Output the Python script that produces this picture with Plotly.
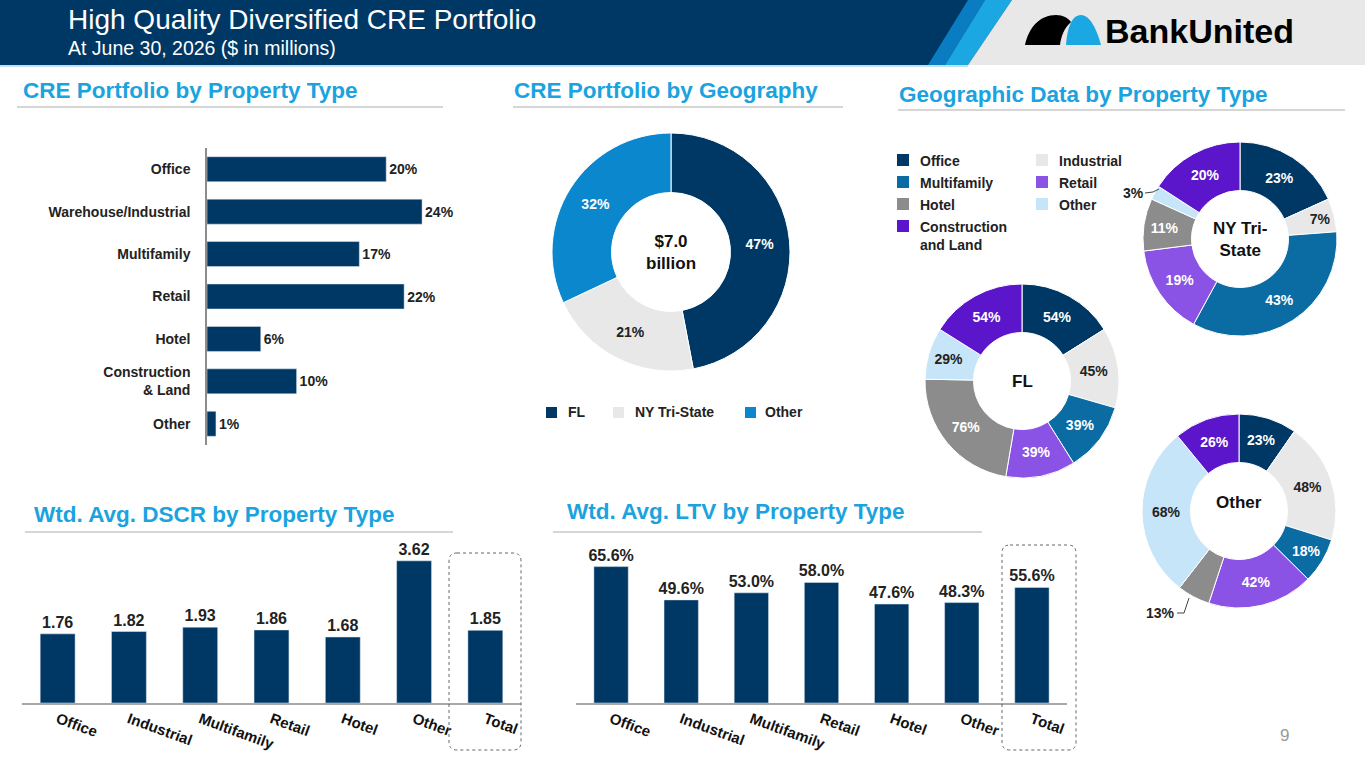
import plotly.graph_objects as go

W, H = 1365, 768

# ---- data ----
prop_types = ["Office", "Warehouse/Industrial", "Multifamily", "Retail", "Hotel",
              "Construction<br>& Land", "Other"]
prop_share = [20, 24, 17, 22, 6, 10, 1]

geo_labels = ["FL", "NY Tri-State", "Other"]
geo_share = [47, 21, 32]

geo_types = ["Office", "Industrial", "Multifamily", "Retail", "Hotel", "Other",
             "Construction and Land"]
fl_pct = [54, 45, 39, 39, 76, 29, 54]
ny_pct = [23, 7, 43, 19, 11, 3, 20]
oth_pct = [23, 48, 18, 42, 13, 68, 26]

metric_cats = ["Office", "Industrial", "Multifamily", "Retail", "Hotel", "Other", "Total"]
dscr = [1.76, 1.82, 1.93, 1.86, 1.68, 3.62, 1.85]
ltv = [65.6, 49.6, 53.0, 58.0, 47.6, 48.3, 55.6]

# ---- colours ----
NAVY = "#003865"
TITLE_BLUE = "#1AA3DE"
FONT = "Arial, Liberation Sans, sans-serif"
type_colors = {
    "Office": "#003865",
    "Industrial": "#E8E8E8",
    "Multifamily": "#0B6BA3",
    "Retail": "#8B52E6",
    "Hotel": "#8C8C8C",
    "Other": "#C6E5F8",
    "Construction and Land": "#5B16CC",
}
dark_text = {"Industrial", "Other"}
geo_colors = ["#003865", "#E8E8E8", "#0A87CD"]


def fx(x):
    return x / W


def fy(y):
    return 1 - y / H


fig = go.Figure()

# horizontal bars - portfolio by property type
fig.add_trace(go.Bar(
    y=prop_types, x=prop_share, orientation="h",
    marker_color=NAVY, width=0.59,
    text=[f"{v}%" for v in prop_share], textposition="outside", constraintext="none",
    textfont=dict(size=14, color="#222", weight="bold"),
    cliponaxis=False, xaxis="x", yaxis="y",
))

# DSCR bars
fig.add_trace(go.Bar(
    x=metric_cats, y=dscr, marker_color=NAVY, width=0.49,
    text=[f"{v:.2f}" for v in dscr], textposition="outside", constraintext="none",
    textfont=dict(size=16, color="#222", weight="bold"),
    cliponaxis=False, xaxis="x2", yaxis="y2",
))

# LTV bars
fig.add_trace(go.Bar(
    x=metric_cats, y=ltv, marker_color=NAVY, width=0.49,
    text=[f"{v:.1f}%" for v in ltv], textposition="outside", constraintext="none",
    textfont=dict(size=16, color="#222", weight="bold"),
    cliponaxis=False, xaxis="x3", yaxis="y3",
))


def donut_domain(cx, cy, r):
    return dict(x=[fx(cx - r), fx(cx + r)], y=[fy(cy + r), fy(cy - r)])


# geography donut
fig.add_trace(go.Pie(
    labels=geo_labels, values=geo_share, hole=0.5, sort=False, direction="clockwise",
    marker=dict(colors=geo_colors, line=dict(color="white", width=1)),
    text=[f"{v}%" for v in geo_share], textinfo="text", textposition="inside",
    insidetextorientation="horizontal",
    textfont=dict(size=14, weight="bold", color=["white", "#222", "white"]),
    domain=donut_domain(671, 252, 119), showlegend=False,
))

# geographic data by property type
donuts = [
    (fl_pct, 1022, 381, []),
    (ny_pct, 1240, 239, ["Other"]),
    (oth_pct, 1239, 511, ["Hotel"]),
]
for vals, cx, cy, outside in donuts:
    fig.add_trace(go.Pie(
        labels=geo_types, values=vals, hole=0.5, sort=False, direction="clockwise",
        marker=dict(colors=[type_colors[t] for t in geo_types],
                    line=dict(color="white", width=1)),
        text=["" if t in outside else f"{v}%" for t, v in zip(geo_types, vals)],
        textinfo="text", textposition="inside", insidetextorientation="horizontal",
        textfont=dict(size=14, weight="bold",
                      color=["#222" if t in dark_text else "white" for t in geo_types]),
        domain=donut_domain(cx, cy, 97), showlegend=False,
    ))

shapes = []
annotations = []


def note(text, x, y, size, color="#222", xa="center", ya="middle", align="center"):
    annotations.append(dict(text=text, x=fx(x), y=fy(y), xref="paper", yref="paper",
                            xanchor=xa, yanchor=ya, align=align, showarrow=False,
                            font=dict(family=FONT, size=size, color=color)))


# header band
shapes.append(dict(type="rect", xref="paper", yref="paper", x0=0, x1=1,
                   y0=fy(65), y1=1, fillcolor=NAVY, line_width=0, layer="below"))
shapes.append(dict(type="path", xref="paper", yref="paper",
                   path=f"M{fx(968)},{fy(0)} L{fx(985)},{fy(0)} L{fx(945)},{fy(65)} L{fx(928)},{fy(65)} Z",
                   fillcolor="#0A7CC1", line_width=0))
shapes.append(dict(type="path", xref="paper", yref="paper",
                   path=f"M{fx(985)},{fy(0)} L{fx(1012)},{fy(0)} L{fx(968)},{fy(65)} L{fx(945)},{fy(65)} Z",
                   fillcolor="#1AA7E2", line_width=0))
shapes.append(dict(type="path", xref="paper", yref="paper",
                   path=f"M{fx(1012)},{fy(0)} L{fx(1365)},{fy(0)} L{fx(1365)},{fy(65)} L{fx(968)},{fy(65)} Z",
                   fillcolor="#E8E8E8", line_width=0))
shapes.append(dict(type="line", xref="paper", yref="paper", x0=0, x1=fx(968),
                   y0=fy(66), y1=fy(66), line=dict(color="#BFE3F5", width=2)))

# logo arch
shapes.append(dict(type="path", xref="paper", yref="paper",
                   path=(f"M{fx(1025)},{fy(45)} C{fx(1029)},{fy(27)} {fx(1040)},{fy(15)} {fx(1056)},{fy(15)} "
                         f"C{fx(1063)},{fy(15)} {fx(1068)},{fy(18)} {fx(1071)},{fy(22)} "
                         f"C{fx(1064)},{fy(28)} {fx(1061)},{fy(37)} {fx(1060)},{fy(45)} Z"),
                   fillcolor="black", line_width=0))
shapes.append(dict(type="path", xref="paper", yref="paper",
                   path=(f"M{fx(1066)},{fy(45)} C{fx(1067)},{fy(30)} {fx(1071)},{fy(15)} {fx(1081)},{fy(15)} "
                         f"C{fx(1090)},{fy(15)} {fx(1097)},{fy(30)} {fx(1101)},{fy(45)} Z"),
                   fillcolor="#1AA7E2", line_width=0))
note("<b>BankUnited</b>", 1103, 31, 34, color="black", xa="left")

note("High Quality Diversified CRE Portfolio", 66, 19, 28, color="white", xa="left")
note("At June 30, 2026 ($ in millions)", 66, 48, 19.5, color="white", xa="left")

# section titles with underline
sections = [
    ("CRE Portfolio by Property Type", 21, 90, 17, 443, 107),
    ("CRE Portfolio by Geography", 512, 90, 513, 843, 107),
    ("Geographic Data by Property Type", 897, 94, 898, 1345, 110),
    ("Wtd. Avg. DSCR by Property Type", 32, 514, 25, 453, 532),
    ("Wtd. Avg. LTV by Property Type", 565, 511, 553, 982, 532),
]
for txt, tx, ty, lx0, lx1, ly in sections:
    note(f"<b>{txt}</b>", tx, ty, 22.5, color=TITLE_BLUE, xa="left")
    shapes.append(dict(type="line", xref="paper", yref="paper", x0=fx(lx0), x1=fx(lx1),
                       y0=fy(ly), y1=fy(ly), line=dict(color="#D6D6D6", width=2)))

# donut centre texts
centres = [("$7.0<br>billion", 671, 252), ("FL", 1022, 381),
           ("NY Tri-<br>State", 1240, 239), ("Other", 1239, 502)]
for txt, cx, cy in centres:
    note(f"<b>{txt}</b>", cx, cy, 17, color="#111")

# geography legend
for (lab, col), sx, tx in zip(zip(geo_labels, geo_colors), [546, 613, 745], [566, 633, 763]):
    shapes.append(dict(type="rect", xref="paper", yref="paper", x0=fx(sx), x1=fx(sx + 11),
                       y0=fy(418), y1=fy(407), fillcolor=col, line_width=0))
    note(f"<b>{lab}</b>", tx, 412, 14, xa="left")

# property type legend (two columns)
legend_pos = {
    "Office": (897, 160), "Multifamily": (897, 182), "Hotel": (897, 204),
    "Construction and Land": (897, 226), "Industrial": (1036, 160),
    "Retail": (1036, 182), "Other": (1036, 204),
}
for t in geo_types:
    sx, sy = legend_pos[t]
    shapes.append(dict(type="rect", xref="paper", yref="paper", x0=fx(sx), x1=fx(sx + 12),
                       y0=fy(sy + 6), y1=fy(sy - 6), fillcolor=type_colors[t], line_width=0))
    lab = "Construction<br>and Land" if t == "Construction and Land" else t
    note(f"<b>{lab}</b>", sx + 21, sy - 9, 14, xa="left", ya="top", align="left")

# outside slice labels with leader lines
note("<b>3%</b>", 1133, 193, 14)
shapes.append(dict(type="path", xref="paper", yref="paper",
                   path=f"M{fx(1145)},{fy(193)} L{fx(1153)},{fy(192)} L{fx(1159)},{fy(189)}",
                   line=dict(color="#444", width=1)))
note("<b>13%</b>", 1160, 613, 14)
shapes.append(dict(type="path", xref="paper", yref="paper",
                   path=f"M{fx(1177)},{fy(613)} L{fx(1184)},{fy(613)} L{fx(1189)},{fy(598)}",
                   line=dict(color="#444", width=1)))

# dotted boxes around Total
for x0, x1, y0, y1 in [(449, 521, 553, 750), (1002, 1076, 545, 750)]:
    r = 8
    p = (f"M{fx(x0 + r)},{fy(y0)} L{fx(x1 - r)},{fy(y0)} Q{fx(x1)},{fy(y0)} {fx(x1)},{fy(y0 + r)} "
         f"L{fx(x1)},{fy(y1 - r)} Q{fx(x1)},{fy(y1)} {fx(x1 - r)},{fy(y1)} "
         f"L{fx(x0 + r)},{fy(y1)} Q{fx(x0)},{fy(y1)} {fx(x0)},{fy(y1 - r)} "
         f"L{fx(x0)},{fy(y0 + r)} Q{fx(x0)},{fy(y0)} {fx(x0 + r)},{fy(y0)} Z")
    shapes.append(dict(type="path", xref="paper", yref="paper", path=p,
                       line=dict(color="#666", width=1, dash="dot")))

note("9", 1284, 735, 17, color="#999")

tick_font = dict(family=FONT, size=14, color="#222", weight="bold")
tick_font2 = dict(family=FONT, size=15, color="#111", weight="bold")

fig.update_layout(
    width=W, height=H, autosize=False,
    margin=dict(l=0, r=0, t=0, b=0),
    paper_bgcolor="white", plot_bgcolor="white",
    font=dict(family=FONT),
    showlegend=False,
    shapes=shapes, annotations=annotations,
    xaxis=dict(domain=[fx(207), fx(440)], range=[0, 26], visible=False, fixedrange=True),
    yaxis=dict(domain=[fy(445), fy(148)], autorange="reversed", showline=True,
               linecolor="#8C8C8C", linewidth=1.5, ticks="", tickfont=tick_font,
               ticklabelstandoff=12, showgrid=False, zeroline=False),
    xaxis2=dict(domain=[fx(22), fx(521)], anchor="y2", showline=True, linecolor="#A8A8A8",
                linewidth=2, ticks="", tickangle=20, tickfont=tick_font2, showgrid=False),
    yaxis2=dict(domain=[fy(703), fy(540)], anchor="x2", range=[0, 4.15], visible=False),
    xaxis3=dict(domain=[fx(576), fx(1067)], anchor="y3", showline=True, linecolor="#A8A8A8",
                linewidth=2, ticks="", tickangle=20, tickfont=tick_font2, showgrid=False),
    yaxis3=dict(domain=[fy(703), fy(545)], anchor="x3", range=[0, 76], visible=False),
    bargap=0.4,
)

fig.write_html("out.html", config={"displayModeBar": False},
               post_script="document.body.style.margin='0px';")
